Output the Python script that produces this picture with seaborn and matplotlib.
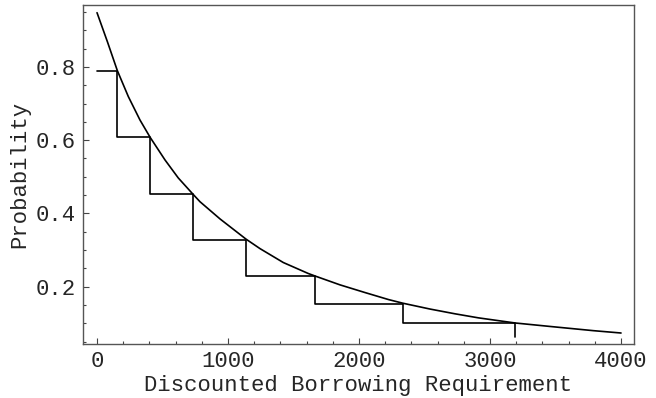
import matplotlib
matplotlib.use("Agg")
import matplotlib.pyplot as plt
from matplotlib.ticker import MultipleLocator
import seaborn as sns
import pandas as pd

# Smooth probability curve
curve_x = [0, 80, 155, 239, 328, 405, 519, 620, 730, 786, 939, 1137, 1244,
           1422, 1613, 1666, 1855, 2046, 2224, 2334, 2542, 2733, 2911, 3191,
           3458, 3789, 4000]
curve_y = [0.948, 0.868, 0.790, 0.719, 0.655, 0.608, 0.546, 0.497, 0.4535,
           0.432, 0.385, 0.330, 0.304, 0.266, 0.236, 0.229, 0.205, 0.184, 0.165,
           0.155, 0.139, 0.126, 0.115, 0.101, 0.0915, 0.080, 0.0736]

# Staircase approximation
step_x = [0, 155, 405, 730, 1137, 1666, 2334, 3191]
step_y = [0.790, 0.608, 0.4535, 0.328, 0.229, 0.154, 0.101, 0.063]

x_ticks = [0, 1000, 2000, 3000, 4000]
y_ticks = [0.2, 0.4, 0.6, 0.8]

sns.set_style("ticks")
plt.rcParams["font.family"] = ["Liberation Mono", "DejaVu Sans Mono"]

fig = plt.figure(figsize=(6.56, 3.98), dpi=100)
ax = fig.add_axes([83 / 656, 1 - 344 / 398, (634 - 83) / 656, (344 - 5) / 398])

curve = pd.DataFrame({"x": curve_x, "y": curve_y})
steps = pd.DataFrame({"x": step_x, "y": step_y})

sns.lineplot(data=curve, x="x", y="y", ax=ax, color="black", linewidth=1.2,
             sort=False, estimator=None)
sns.lineplot(data=steps, x="x", y="y", ax=ax, color="black", linewidth=1.2,
             sort=False, estimator=None, drawstyle="steps-post")

ax.set_xlim(-107, 4099)
ax.set_ylim(0.0436, 0.969)
ax.set_xticks(x_ticks)
ax.set_xticklabels([str(v) for v in x_ticks])
ax.set_yticks(y_ticks)
ax.set_yticklabels([f"{v:.1f}" for v in y_ticks])
ax.xaxis.set_minor_locator(MultipleLocator(200))
ax.yaxis.set_minor_locator(MultipleLocator(0.05))

ax.tick_params(which="both", direction="in", top=False, right=False,
               color="#444444", width=0.8)
ax.tick_params(which="major", length=4.5, labelsize=16, pad=5)
ax.tick_params(which="minor", length=2.5)

for side in ax.spines.values():
    side.set_color("#555555")
    side.set_linewidth(1.0)

ax.set_xlabel("Discounted Borrowing Requirement", fontsize=16, labelpad=2)
ax.set_ylabel("Probability", fontsize=16, labelpad=4)

fig.savefig("out.png", dpi=100)
